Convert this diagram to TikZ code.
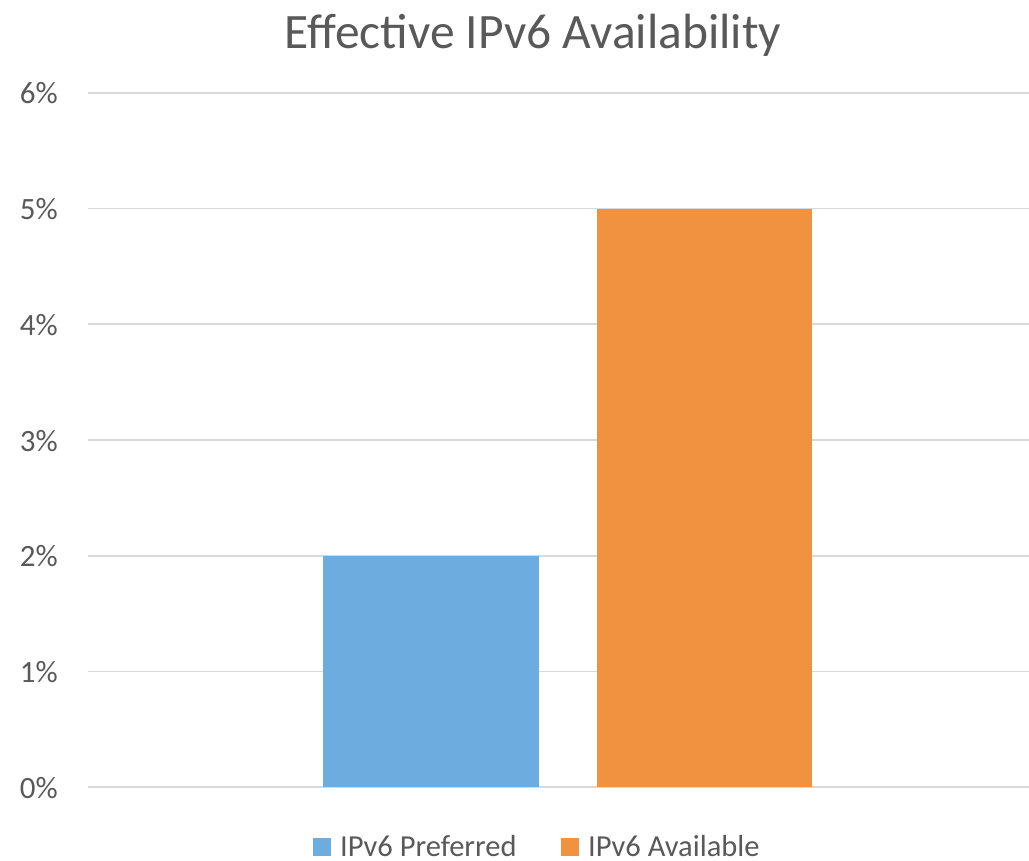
\documentclass[tikz,border=0pt]{standalone}
\usepackage{fontspec}
\setmainfont{Carlito}
\usepackage{xcolor}
\usetikzlibrary{positioning}
\definecolor{cblue}{RGB}{109,172,222}
\definecolor{corange}{RGB}{241,146,65}
\definecolor{cgrid}{RGB}{217,217,217}
\definecolor{ctext}{RGB}{89,89,89}

\begin{document}
\begin{tikzpicture}[x=1pt, y=-1pt,
  grid/.style={draw=cgrid, line width=1.6pt},
  ticklbl/.style={anchor=base east, inner sep=0pt, text=ctext, font=\fontsize{31}{31}\selectfont},
  legendlbl/.style={anchor=base west, inner sep=0pt, text depth=0pt, text=ctext, font=\fontsize{30.5}{30.5}\selectfont},
  bar/.style={draw=none}]

  \useasboundingbox (0,0) rectangle (1029,861);

  % ── Title ──
  \node[anchor=base, inner sep=0pt, text=ctext, font=\fontsize{49.5}{49.5}\selectfont]
    (title) at (533,49) {Effective IPv6 Availability};

  % ── Gridlines and axis labels ──
  \foreach \v/\y in {0/787, 1/671.3, 2/555.7, 3/440, 4/324.3, 5/208.7, 6/93} {
    \draw[grid] (88,\y) -- (1029,\y);
    \node[ticklbl] (tick\v) at (58,\y+11) {\v\%};
  }

  % ── Bars ──
  \fill[cblue, bar] (323,555.7) rectangle (539,787);
  \fill[corange, bar] (597,208.7) rectangle (812,787);

  % ── Legend ──
  \fill[cblue] (313,838) rectangle (331,856);
  \node[legendlbl] (leg1) at (340,856.5) {IPv6 Preferred};
  \fill[corange] (561,838) rectangle (579,856);
  \node[legendlbl] (leg2) at (588,856.5) {IPv6 Available};

\end{tikzpicture}
\end{document}
